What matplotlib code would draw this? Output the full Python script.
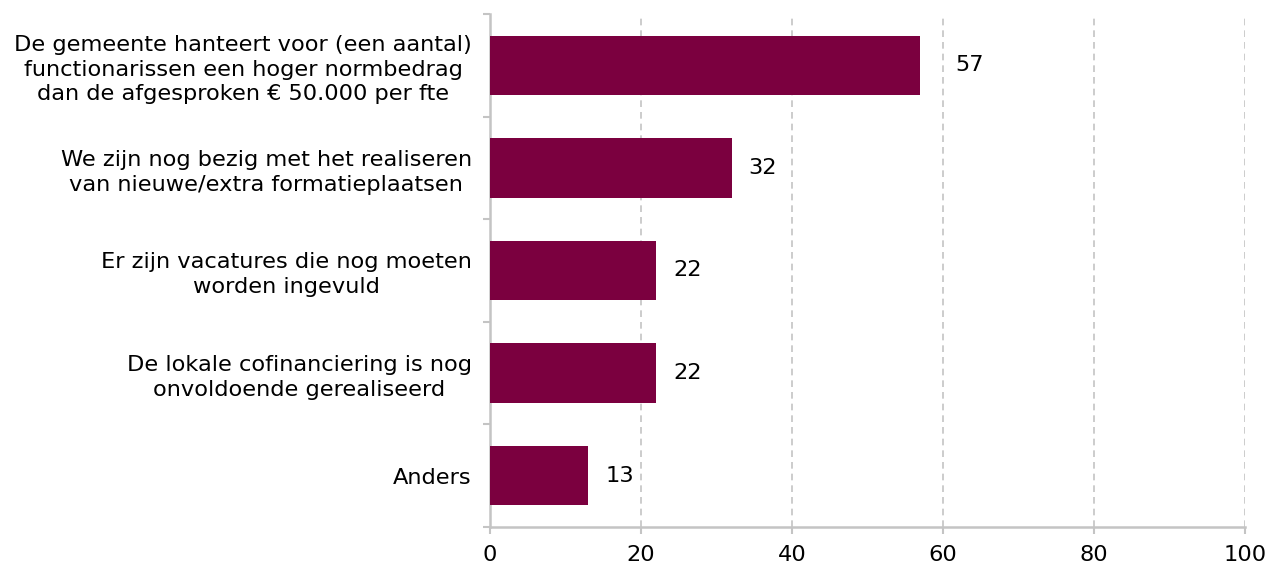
import matplotlib
matplotlib.use("Agg")
import matplotlib.pyplot as plt
import numpy as np

categories = [
    "De gemeente hanteert voor (een aantal)\nfunctionarissen een hoger normbedrag\ndan de afgesproken € 50.000 per fte",
    "We zijn nog bezig met het realiseren\nvan nieuwe/extra formatieplaatsen",
    "Er zijn vacatures die nog moeten\nworden ingevuld",
    "De lokale cofinanciering is nog\nonvoldoende gerealiseerd",
    "Anders",
]
values = [57, 32, 22, 22, 13]
xticks = [0, 20, 40, 60, 80, 100]

plt.rcParams['font.family'] = ['DejaVu Sans']
fig = plt.figure(figsize=(12.71, 5.68), dpi=100)
ax = fig.add_axes([490/1271, 1-527/568, (1245-490)/1271, (527-14)/568])

bar_color = "#7B003F"
grid_color = "#C4C4C4"
fs = 16.2
y = np.arange(len(categories))
ax.barh(y, values, height=0.58, color=bar_color, zorder=3)

ax.set_xlim(0, 100)
ax.set_ylim(len(categories) - 0.5, -0.5)
ax.set_xticks(xticks)
ax.set_xticklabels([str(t) for t in xticks], fontsize=fs)
for t in xticks[1:]:
    ax.axvline(t, color=grid_color, linestyle=(0, (4, 3)), linewidth=1.2, zorder=1)

ax.set_yticks(y)
ax.set_yticklabels(categories, fontsize=fs, ha='right', multialignment='center',
                   linespacing=1.3)
ax.tick_params(axis='y', which='major', length=0, pad=13)
ax.set_yticks(np.arange(-0.5, len(categories), 1.0), minor=True)
ax.tick_params(axis='y', which='minor', length=5, width=1.5, color=grid_color)
ax.tick_params(axis='x', which='major', length=5, width=1.5, color=grid_color, pad=8)

for side in ['top', 'right']:
    ax.spines[side].set_visible(False)
for side in ['left', 'bottom']:
    ax.spines[side].set_color(grid_color)
    ax.spines[side].set_linewidth(1.8)

for i, v in enumerate(values):
    off = 35 if v > 50 else 17
    ax.annotate(str(v), xy=(v, i), xytext=(off * 0.72, 0), textcoords='offset points',
                va='center', ha='left', fontsize=fs, color='black')

fig.savefig("out.png", dpi=100)
